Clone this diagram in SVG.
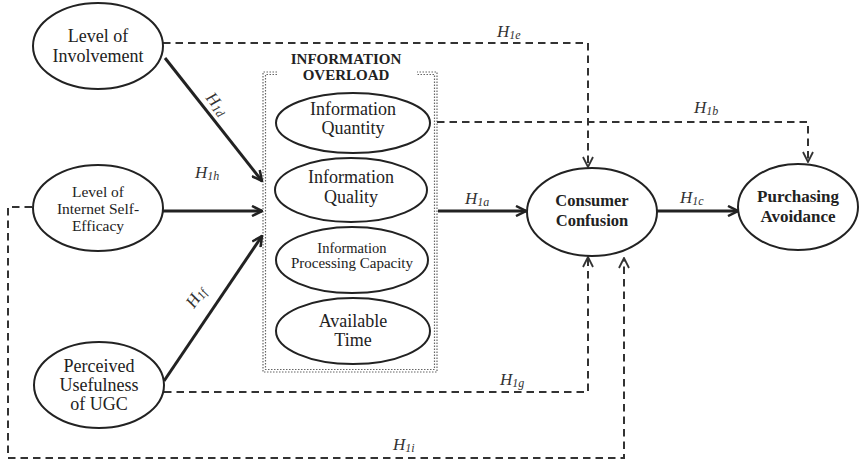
<svg xmlns="http://www.w3.org/2000/svg" width="862" height="462" viewBox="0 0 862 462">
<defs>
<style>
.node ellipse{fill:#fff;stroke:#222;stroke-width:2}
.t{font-family:"Liberation Serif","Times New Roman",serif;fill:#222;text-anchor:middle}
.b{font-weight:bold}
.lbl{font-family:"Liberation Serif","Times New Roman",serif;font-style:italic;fill:#333;font-size:17px}
.sub{font-size:12px}
.solid{fill:none;stroke:#222;stroke-width:3;marker-end:url(#arr)}
.dash{fill:none;stroke:#333;stroke-width:2;stroke-dasharray:7.5 5;marker-end:url(#arrd)}
.dot{fill:none;stroke:#666;stroke-width:1.2;stroke-dasharray:1.5 1.5}
</style>
<marker id="arr" viewBox="0 0 12 12" refX="11" refY="6" markerWidth="12" markerHeight="12" markerUnits="userSpaceOnUse" orient="auto">
<path d="M1,1 L11,6 L1,11" fill="none" stroke="#222" stroke-width="2.5"/>
</marker>
<marker id="arrd" viewBox="0 0 12 12" refX="11" refY="6" markerWidth="12" markerHeight="12" markerUnits="userSpaceOnUse" orient="auto">
<path d="M1,1 L11,6 L1,11" fill="none" stroke="#333" stroke-width="1.8" stroke-dasharray="none"/>
</marker>
</defs>
<rect width="862" height="462" fill="#fff"/>

<g id="info-overload">
<path class="dot" d="M277,72 H263 V372 H437 V72 H417"/>
<path class="dot" d="M277,74.5 H265.5 V369.5 H434.5 V74.5 H417"/>
<text class="t b" font-size="15" x="346" y="64">INFORMATION</text>
<text class="t b" font-size="15" x="346" y="80">OVERLOAD</text>
</g>

<g id="connectors">
<path class="solid" d="M165,58 L262,181"/>
<path class="solid" d="M163,211 L262,211"/>
<path class="solid" d="M164,381 L262,236"/>
<path class="solid" d="M438,211 L526,211"/>
<path class="solid" d="M657,211 L738,211"/>
<path class="dash" d="M163,43 H588 V167"/>
<path class="dash" d="M437,122 H808 V162"/>
<path class="dash" d="M164,392 H588 V257"/>
<path class="dash" d="M32,207 H8 V458 H624 V258"/>
<text class="lbl" x="497" y="37">H<tspan class="sub" dy="2">1e</tspan></text>
<text class="lbl" x="694" y="113">H<tspan class="sub" dy="2">1b</tspan></text>
<text class="lbl" transform="translate(205,98) rotate(51)">H<tspan class="sub" dy="2">1d</tspan></text>
<text class="lbl" x="195" y="178">H<tspan class="sub" dy="2">1h</tspan></text>
<text class="lbl" transform="translate(194,309) rotate(-55)">H<tspan class="sub" dy="2">1f</tspan></text>
<text class="lbl" x="465" y="204">H<tspan class="sub" dy="2">1a</tspan></text>
<text class="lbl" x="680" y="203">H<tspan class="sub" dy="2">1c</tspan></text>
<text class="lbl" x="500" y="385">H<tspan class="sub" dy="2">1g</tspan></text>
<text class="lbl" x="393" y="450">H<tspan class="sub" dy="2">1i</tspan></text>
</g>

<g id="level-of-involvement" class="node">
<ellipse cx="98" cy="46" rx="65" ry="43"/>
<text class="t" font-size="18" x="98" y="42">Level of</text>
<text class="t" font-size="18" x="98" y="62">Involvement</text>
</g>

<g id="internet-self-efficacy" class="node">
<ellipse cx="98" cy="208" rx="65" ry="43"/>
<text class="t" font-size="15.5" x="98" y="197">Level of</text>
<text class="t" font-size="15.5" x="98" y="214">Internet Self-</text>
<text class="t" font-size="15.5" x="98" y="231">Efficacy</text>
</g>

<g id="perceived-usefulness" class="node">
<ellipse cx="99" cy="385" rx="65" ry="43"/>
<text class="t" font-size="18" x="99" y="372">Perceived</text>
<text class="t" font-size="18" x="99" y="391">Usefulness</text>
<text class="t" font-size="18" x="99" y="410">of UGC</text>
</g>

<g id="information-quantity" class="node">
<ellipse cx="353" cy="123" rx="77" ry="30"/>
<text class="t" font-size="18" x="353" y="115">Information</text>
<text class="t" font-size="18" x="353" y="134">Quantity</text>
</g>

<g id="information-quality" class="node">
<ellipse cx="351" cy="190" rx="76" ry="32"/>
<text class="t" font-size="18" x="351" y="183">Information</text>
<text class="t" font-size="18" x="351" y="203">Quality</text>
</g>

<g id="processing-capacity" class="node">
<ellipse cx="352" cy="260" rx="76" ry="33"/>
<text class="t" font-size="14.5" x="352" y="253">Information</text>
<text class="t" font-size="15" x="352" y="268">Processing Capacity</text>
</g>

<g id="available-time" class="node">
<ellipse cx="353" cy="331" rx="77" ry="33"/>
<text class="t" font-size="18" x="353" y="327">Available</text>
<text class="t" font-size="18" x="353" y="346">Time</text>
</g>

<g id="consumer-confusion" class="node">
<ellipse cx="592" cy="212" rx="65" ry="44"/>
<text class="t b" font-size="16.5" x="592" y="206">Consumer</text>
<text class="t b" font-size="16.5" x="592" y="226">Confusion</text>
</g>

<g id="purchasing-avoidance" class="node">
<ellipse cx="798" cy="207" rx="60" ry="43"/>
<text class="t b" font-size="17" x="798" y="202">Purchasing</text>
<text class="t b" font-size="17" x="798" y="222">Avoidance</text>
</g>
</svg>
